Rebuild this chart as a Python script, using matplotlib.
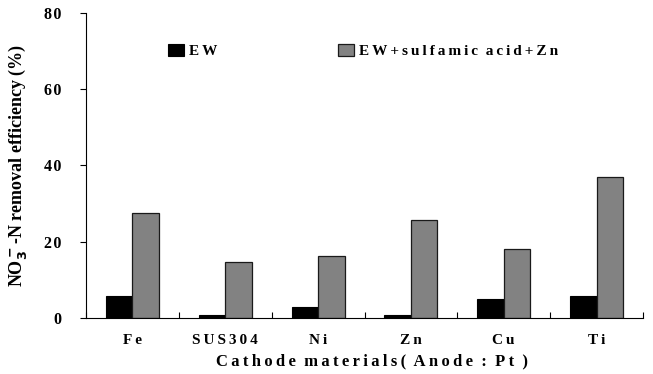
import numpy as np
import matplotlib.pyplot as plt

# Data
cathodes = ['Fe', 'SUS304', 'Ni', 'Zn', 'Cu', 'Ti']
ew = [5.9, 0.8, 2.9, 0.7, 5.1, 5.9]
ew_sulfamic_zn = [27.6, 14.7, 16.3, 25.7, 18.0, 37.1]

plt.rcParams['font.family'] = 'Liberation Serif'
plt.rcParams['font.weight'] = 'bold'

TS = '\u2009'  # thin space, the original text is letter-spaced
HS = '\u200a'  # hair space


def spaced(s, sep=TS):
    return sep.join(s)


fig = plt.figure(figsize=(6.53, 3.74), dpi=100)
ax = fig.add_axes([86 / 653, 1 - 318 / 374, 557 / 653, 305 / 374])

x = np.arange(len(cathodes))
w = 0.285
ax.bar(x - w / 2, ew, w, color='black', edgecolor='black', linewidth=0.8, label=spaced('EW'))
ax.bar(x + w / 2, ew_sulfamic_zn, w, color='#828282', edgecolor='#1a1a1a', linewidth=0.9,
       label=spaced('EW+sulfamic') + '  ' + spaced('acid+Zn'))

ax.set_xlim(-0.5, len(cathodes) - 0.5)
ax.set_ylim(0, 80)
ax.set_yticks([0, 20, 40, 60, 80])
ax.set_yticklabels([spaced(str(v), HS) for v in [0, 20, 40, 60, 80]], fontsize=11.5)

# category boundary ticks on x axis, labels in the middle
ax.set_xticks(np.arange(len(cathodes) + 1) - 0.5)
ax.set_xticklabels([])
ax.tick_params(axis='x', direction='in', length=4)
ax.tick_params(axis='y', direction='out', length=4, pad=14)
for xi, name in zip(x, cathodes):
    ax.text(xi, -5.8, spaced(name), ha='center', va='center', fontsize=11, fontweight='bold')

xlab = '  '.join([spaced('Cathode'), spaced('materials('), spaced('Anode'), ':', spaced('Pt'), ')'])
ax.text(2.58, -11.3, xlab, ha='center', va='center', fontsize=12, fontweight='bold')
ax.set_ylabel('NO$_3^{\\bf -}$-N removal efficiency (%)', fontsize=13, fontweight='bold')
ax.yaxis.set_label_coords(-0.102, 0.5)

ax.spines['top'].set_visible(False)
ax.spines['right'].set_visible(False)

ax.legend(loc='upper left', bbox_to_anchor=(168 / 653, 1 - 44 / 374), bbox_transform=fig.transFigure,
          ncol=2, frameon=False, fontsize=11, borderpad=0, borderaxespad=0,
          handlelength=1.05, handleheight=0.85, handletextpad=0.35, columnspacing=7.85)

fig.savefig('out.png', dpi=100)
